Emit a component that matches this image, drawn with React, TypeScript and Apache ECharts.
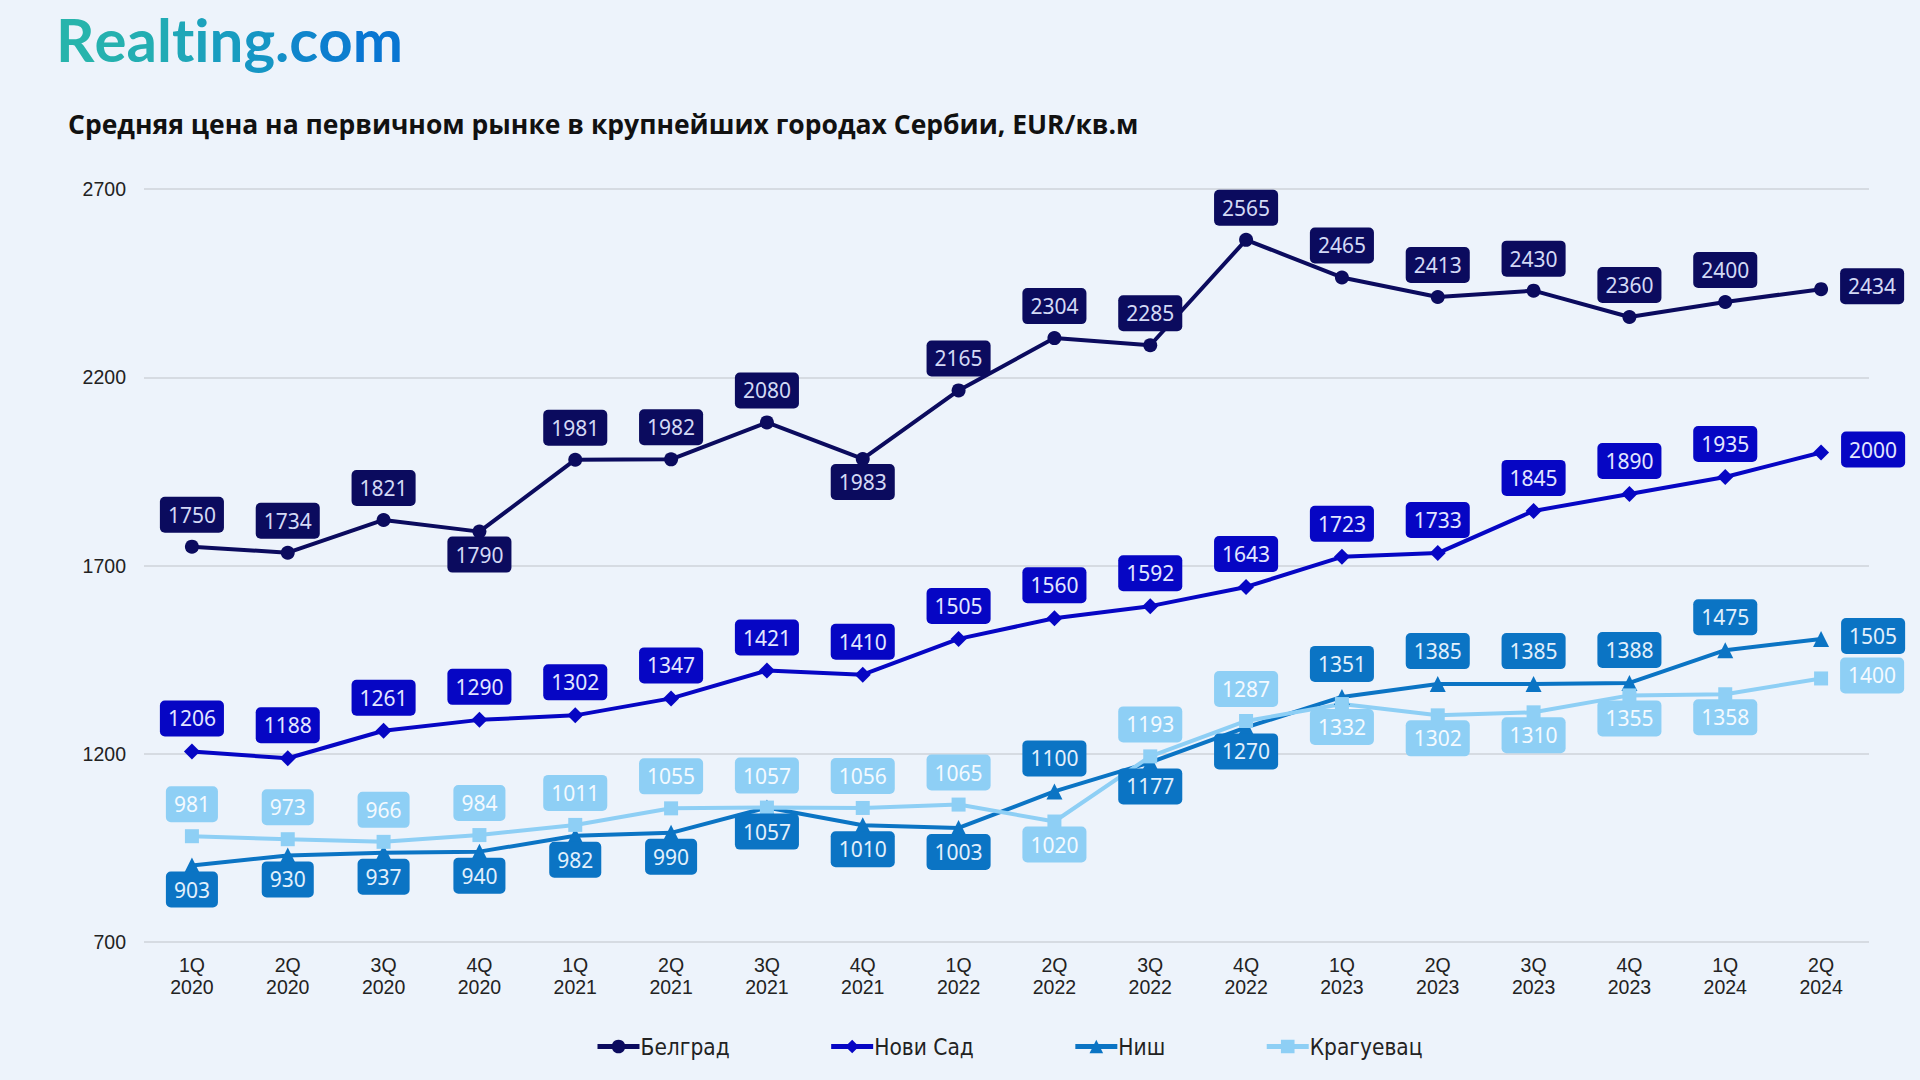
import React, { useEffect, useRef } from "react";
import * as echarts from "echarts";

const categories = [
  "1Q 2020", "2Q 2020", "3Q 2020", "4Q 2020",
  "1Q 2021", "2Q 2021", "3Q 2021", "4Q 2021",
  "1Q 2022", "2Q 2022", "3Q 2022", "4Q 2022",
  "1Q 2023", "2Q 2023", "3Q 2023", "4Q 2023",
  "1Q 2024", "2Q 2024",
];

const belgrade = [1750, 1734, 1821, 1790, 1981, 1982, 2080, 1983, 2165, 2304, 2285, 2565, 2465, 2413, 2430, 2360, 2400, 2434];
const noviSad = [1206, 1188, 1261, 1290, 1302, 1347, 1421, 1410, 1505, 1560, 1592, 1643, 1723, 1733, 1845, 1890, 1935, 2000];
const nis = [903, 930, 937, 940, 982, 990, 1057, 1010, 1003, 1100, 1177, 1270, 1351, 1385, 1385, 1388, 1475, 1505];
const kragujevac = [981, 973, 966, 984, 1011, 1055, 1057, 1056, 1065, 1020, 1193, 1287, 1332, 1302, 1310, 1355, 1358, 1400];

const seriesNames = ["Белград", "Нови Сад", "Ниш", "Крагуевац"];

// label placement per point (t = top, b = bottom, r = right)
const belgradePlace = "tttbtttbtttttttttr";
const noviSadPlace = "tttttttttttttttttr";
const nisPlace = "bbbbbbbbbtbbtttttr";
const kragPlace = "tttttttttbttbbbbbr";

const TITLE = "Средняя цена на первичном рынке в крупнейших городах Сербии, EUR/кв.м";
const LOGO = "Realting.com";
const LOGO_COLORS = [
  "#27b4ac", "#25b1af", "#23aeb2", "#21abb5", "#1fa7b8", "#1ca2bc",
  "#199dc0", "#1696c4", "#138fc8", "#1086cc", "#0c7ecf", "#0976d2",
];

const BG = "#edf3fb";

function buildData(values: number[], place: string) {
  return values.map((v, i) => {
    const c = place[i];
    const label: any =
      c === "t"
        ? { position: "top", distance: 7 }
        : c === "b"
        ? { position: "bottom", distance: -2 }
        : { position: "right", distance: 12, offset: [0, -3] };
    return { value: v, label };
  });
}

function makeSeries(
  name: string,
  values: number[],
  place: string,
  color: string,
  symbol: string,
  symbolSize: number,
  textColor: string
) {
  return {
    name,
    type: "line",
    data: buildData(values, place),
    symbol,
    symbolSize,
    showAllSymbol: true,
    lineStyle: { color, width: 4 },
    itemStyle: { color },
    label: {
      show: true,
      backgroundColor: color,
      color: textColor,
      borderRadius: 5,
      padding: [7, 8, 7, 8],
      fontFamily: "Noto Sans",
      fontSize: 21,
      lineHeight: 22,
    },
  };
}

export default function App() {
  const ref = useRef<HTMLDivElement>(null);

  useEffect(() => {
    if (!ref.current) return;
    const chart = echarts.init(ref.current, undefined, { renderer: "svg" });
    const rich: any = {};
    LOGO_COLORS.forEach((c, i) => {
      rich["c" + i] = {
        color: c,
        fontFamily: "Lato",
        fontWeight: "bold",
        fontSize: 60,
      };
    });
    const logoText = LOGO.split("")
      .map((ch, i) => `{c${i}|${ch}}`)
      .join("");
    const option: any = {
      animation: false,
      backgroundColor: BG,
      title: [
        {
          text: logoText,
          left: 51,
          top: 4,
          textStyle: { rich, fontSize: 60 },
        },
        {
          text: TITLE,
          left: 63,
          top: 105,
          textStyle: {
            fontFamily: "Open Sans",
            fontWeight: "bold",
            fontSize: 26.5,
            color: "#111111",
          },
        },
      ],
      legend: {
        bottom: 17,
        left: 590,
        itemGap: 99,
        itemWidth: 42,
        itemHeight: 17,
        lineStyle: { width: 5 },
        textStyle: {
          fontFamily: "DejaVu Sans Condensed",
          fontSize: 22.5,
          color: "#222222",
          padding: [0, 0, 0, -4],
        },
        data: seriesNames,
      },
      grid: {
        left: 144,
        right: 51,
        top: 189,
        bottom: 138,
      },
      xAxis: {
        type: "category",
        data: categories,
        boundaryGap: true,
        axisLine: { show: false },
        axisTick: { show: false },
        axisLabel: {
          color: "#222222",
          fontFamily: "Liberation Sans",
          fontSize: 19.5,
          lineHeight: 22,
          margin: 12,
          interval: 0,
          formatter: (v: string) => v.replace(" ", "\n"),
        },
      },
      yAxis: {
        type: "value",
        min: 700,
        max: 2700,
        interval: 500,
        axisLine: { show: false },
        axisTick: { show: false },
        splitLine: { lineStyle: { color: "#d6dbe2", width: 2 } },
        axisLabel: {
          color: "#222222",
          fontFamily: "Liberation Sans",
          fontSize: 19.5,
          margin: 18,
          formatter: (v: number) => String(v),
        },
      },
      series: [
        makeSeries(seriesNames[0], belgrade, belgradePlace, "#0b0b5e", "circle", 14, "#d3d9f5"),
        makeSeries(seriesNames[1], noviSad, noviSadPlace, "#0606c4", "diamond", 16, "#e3e6ff"),
        makeSeries(seriesNames[2], nis, nisPlace, "#0b74c4", "triangle", 16, "#e2f0fc"),
        makeSeries(seriesNames[3], kragujevac, kragPlace, "#8ecff5", "rect", 14, "#f4faff"),
      ],
    };
    chart.setOption(option);
    return () => chart.dispose();
  }, []);

  return (
    <div
      ref={ref}
      style={{ width: 1920, height: 1080, position: "absolute", left: 0, top: 0, background: BG }}
    />
  );
}
